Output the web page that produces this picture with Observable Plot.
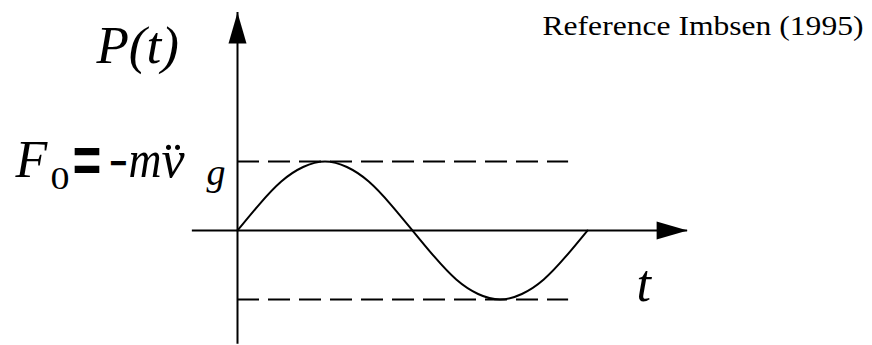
<!DOCTYPE html>
<html>
<head>
<meta charset="utf-8">
<script src="https://cdn.jsdelivr.net/npm/d3@7"></script>
<script src="https://cdn.jsdelivr.net/npm/@observablehq/plot@0.6"></script>
<style>
  body { margin: 0; background: #fff; }
  svg { display: block; }
</style>
</head>
<body>
<div id="chart"></div>
<script>
// One period of the harmonic load P(t); t in periods, P in units of F0
const tSamples = [0, 0.0625, 0.125, 0.1875, 0.25, 0.3125, 0.375, 0.4375, 0.5,
                  0.5625, 0.625, 0.6875, 0.75, 0.8125, 0.875, 0.9375, 1];
const pSamples = [0, 0.38, 0.71, 0.92, 1, 0.92, 0.71, 0.38, 0,
                  -0.38, -0.71, -0.92, -1, -0.92, -0.71, -0.38, 0];

// Amplitude guides at +F0 and -F0
const amplitudeLevels = [1, -1];
const guideExtent = [0, 0.946];

// Extent of the two axes (t and P)
const tAxisExtent = [-0.129, 1.286];
const pAxisExtent = [-1.65, 3.16];

// Labels
const amplitudeLabel = "F0= −mv̈g";
const pLabel = "P(t)";
const tLabel = "t";
const sourceNote = "Reference Imbsen (1995)";

const curve = tSamples.map((t, i) => ({t, p: pSamples[i]}));

// Filled arrowheads, tip at the anchor point
const arrowUp = {draw(ctx) { ctx.moveTo(0, 0); ctx.lineTo(9, 31); ctx.lineTo(-9, 31); ctx.closePath(); }};
const arrowRight = {draw(ctx) { ctx.moveTo(0, 0); ctx.lineTo(-31, 9); ctx.lineTo(-31, -9); ctx.closePath(); }};

const serif = "Liberation Serif, Times New Roman, serif";
const sans = "DejaVu Sans, sans-serif";

const chart = Plot.plot({
  width: 872,
  height: 345,
  margin: 0,
  style: {background: "#fff", color: "#000"},
  x: {domain: [0, 1], range: [237, 587], axis: null},
  y: {domain: [-1, 1], range: [299, 161], axis: null},
  marks: [
    Plot.ruleY(amplitudeLevels, {x1: guideExtent[0], x2: guideExtent[1], stroke: "#000", strokeWidth: 2, strokeDasharray: "22,9"}),
    Plot.ruleX([0], {y1: pAxisExtent[0], y2: pAxisExtent[1], stroke: "#000", strokeWidth: 2}),
    Plot.ruleY([0], {x1: tAxisExtent[0], x2: tAxisExtent[1], stroke: "#000", strokeWidth: 2}),
    Plot.dot([0], {x: 0, y: pAxisExtent[1], symbol: arrowUp, fill: "#000", stroke: null}),
    Plot.dot([0], {x: tAxisExtent[1], y: 0, symbol: arrowRight, fill: "#000", stroke: null}),
    Plot.line(curve, {x: "t", y: "p", curve: "natural", stroke: "#000", strokeWidth: 2}),
    Plot.text([pLabel], {frameAnchor: "top-left", dx: 96, dy: 62, text: d => d, textAnchor: "start", lineAnchor: "bottom",
      fontFamily: serif, fontStyle: "italic", fontSize: 53, fill: "#000"}),
    Plot.text([tLabel], {frameAnchor: "top-left", dx: 636, dy: 300, text: d => d, textAnchor: "start", lineAnchor: "bottom",
      fontFamily: serif, fontStyle: "italic", fontSize: 52, fill: "#000"}),
    Plot.text([sourceNote], {frameAnchor: "top-left", dx: 542, dy: 34, text: d => d, textAnchor: "start", lineAnchor: "bottom",
      fontFamily: serif, fontSize: 27, fill: "#000"}),
    Plot.text([amplitudeLabel], {x: 0, y: amplitudeLevels[0], text: d => d, textAnchor: "start", lineAnchor: "bottom",
      fontFamily: serif, fontSize: 52, fill: "#000"})
  ]
});

const texts = d3.select(chart).selectAll("text");

// The source note is set wide
texts.filter(function () { return this.textContent === sourceNote; })
  .attr("textLength", 321).attr("lengthAdjust", "spacingAndGlyphs");

// Typeset the amplitude label with subscripts and italics, to the left of the P axis
texts.filter(function () { return this.textContent === amplitudeLabel; })
  .each(function () {
    const el = d3.select(this).text("").attr("text-anchor", "start");
    const bx = +el.attr("x") || 0, by = +el.attr("y") || 0;
    const parts = [
      {s: "F", x: -222, y: 15, italic: true},
      {s: "0", x: -187, y: 27, size: 31, len: 19},
      {s: "=", x: -167, y: 26, size: 88, font: sans, len: 33},
      {s: "−", x: -129, y: 17, size: 50, font: sans, len: 20},
      {s: "m", x: -109, y: 15, italic: true, len: 33},
      {s: "v̈", x: -76, y: 15, italic: true},
      {s: "g", x: -31, y: 23, size: 38, italic: true}
    ];
    for (const p of parts) {
      const ts = el.append("tspan").text(p.s)
        .attr("x", bx + p.x).attr("y", by + p.y)
        .attr("font-style", p.italic ? "italic" : "normal");
      if (p.size) ts.attr("font-size", p.size);
      if (p.font) ts.attr("font-family", p.font);
      if (p.len) ts.attr("textLength", p.len).attr("lengthAdjust", "spacingAndGlyphs");
    }
  });

document.getElementById("chart").append(chart);
</script>
</body>
</html>
